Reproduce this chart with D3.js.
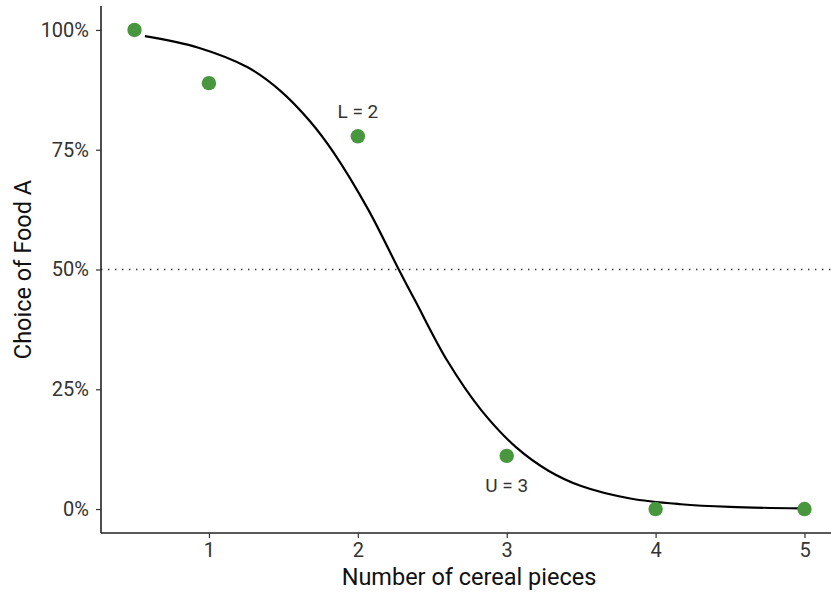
<!DOCTYPE html>
<html>
<head>
<meta charset="utf-8">
<script src="https://cdn.jsdelivr.net/npm/d3@7"></script>
<style>
  body { margin: 0; background: #fff; }
  svg text { font-family: Roboto, "Noto Sans", sans-serif; }
</style>
</head>
<body>
<div id="chart"></div>
<script>
// observed choices
const pieces = [0.5, 1, 2, 3, 4, 5];
const choiceA = [1.0, 0.889, 0.778, 0.111, 0, 0];

// fitted curve
const curveX = [0.57, 0.93, 1.26, 1.48, 1.68, 1.84, 2.07, 2.275, 2.39, 2.60, 2.83, 3.07, 3.28, 3.50, 3.83, 4.17, 4.50, 4.97];
const curveY = [0.987, 0.963, 0.922, 0.873, 0.809, 0.743, 0.625, 0.5, 0.432, 0.31, 0.206, 0.127, 0.08, 0.048, 0.022, 0.010, 0.0045, 0.0014];

// annotations
const labels = [{x: 2, y: 0.778, text: "L = 2", dy: -18}, {x: 3, y: 0.111, text: "U = 3", dy: 36}];

const xTicks = [1, 2, 3, 4, 5];
const yTicks = [0, 0.25, 0.5, 0.75, 1];

const W = 831, H = 596;
const margin = {left: 101, top: 6, bottom: 63};

const svg = d3.select("#chart").append("svg")
    .attr("width", W).attr("height", H);

const x = d3.scaleLinear().domain([0.275, 5.225]).range([margin.left, 838]);
const y = d3.scaleLinear().domain([-0.05, 1.05]).range([H - margin.bottom, margin.top]);

// reference line at 50%
svg.append("line")
    .attr("x1", margin.left).attr("x2", W)
    .attr("y1", y(0.5)).attr("y2", y(0.5))
    .attr("stroke", "#333").attr("stroke-width", 1.4)
    .attr("stroke-dasharray", "1.4,5.6");

// curve
const line = d3.line().x(d => x(d[0])).y(d => y(d[1])).curve(d3.curveCatmullRom);
svg.append("path")
    .datum(d3.zip(curveX, curveY))
    .attr("d", line)
    .attr("fill", "none")
    .attr("stroke", "#000")
    .attr("stroke-width", 2.2);

// points
svg.selectAll("circle.pt")
    .data(d3.zip(pieces, choiceA))
    .join("circle")
    .attr("class", "pt")
    .attr("cx", d => x(d[0])).attr("cy", d => y(d[1]))
    .attr("r", 7.2)
    .attr("fill", "#48973f");

// labels
svg.selectAll("text.ann")
    .data(labels)
    .join("text")
    .attr("class", "ann")
    .attr("x", d => x(d.x))
    .attr("y", d => y(d.y) + d.dy)
    .attr("text-anchor", "middle")
    .attr("font-size", 19)
    .attr("fill", "#333")
    .text(d => d.text);

// axes
const xAxis = d3.axisBottom(x).tickValues(xTicks).tickSize(5).tickPadding(5).tickFormat(d3.format("d"));
const gx = svg.append("g")
    .attr("transform", "translate(0," + (H - margin.bottom) + ")")
    .call(xAxis);

const yAxis = d3.axisLeft(y).tickValues(yTicks).tickSize(5).tickPadding(7).tickFormat(d3.format(".0%"));
const gy = svg.append("g")
    .attr("transform", "translate(" + margin.left + ",0)")
    .call(yAxis);

[gx, gy].forEach(g => {
    g.select(".domain").attr("stroke", "#222").attr("stroke-width", 1.6);
    g.selectAll(".tick line").attr("stroke", "#333").attr("stroke-width", 1.2);
    g.selectAll(".tick text").attr("font-size", 20).attr("fill", "#333")
        .attr("font-family", "Roboto, 'Noto Sans', sans-serif");
});
gx.select(".domain").attr("d", "M" + margin.left + ",0H" + W);
gy.select(".domain").attr("d", "M0," + margin.top + "V" + (H - margin.bottom));

// axis titles
svg.append("text")
    .attr("x", 469).attr("y", 585)
    .attr("text-anchor", "middle")
    .attr("font-size", 23.5)
    .attr("fill", "#111")
    .text("Number of cereal pieces");

svg.append("text")
    .attr("transform", "translate(31," + y(0.5) + ") rotate(-90)")
    .attr("text-anchor", "middle")
    .attr("font-size", 23.5)
    .attr("fill", "#111")
    .text("Choice of Food A");
</script>
</body>
</html>
